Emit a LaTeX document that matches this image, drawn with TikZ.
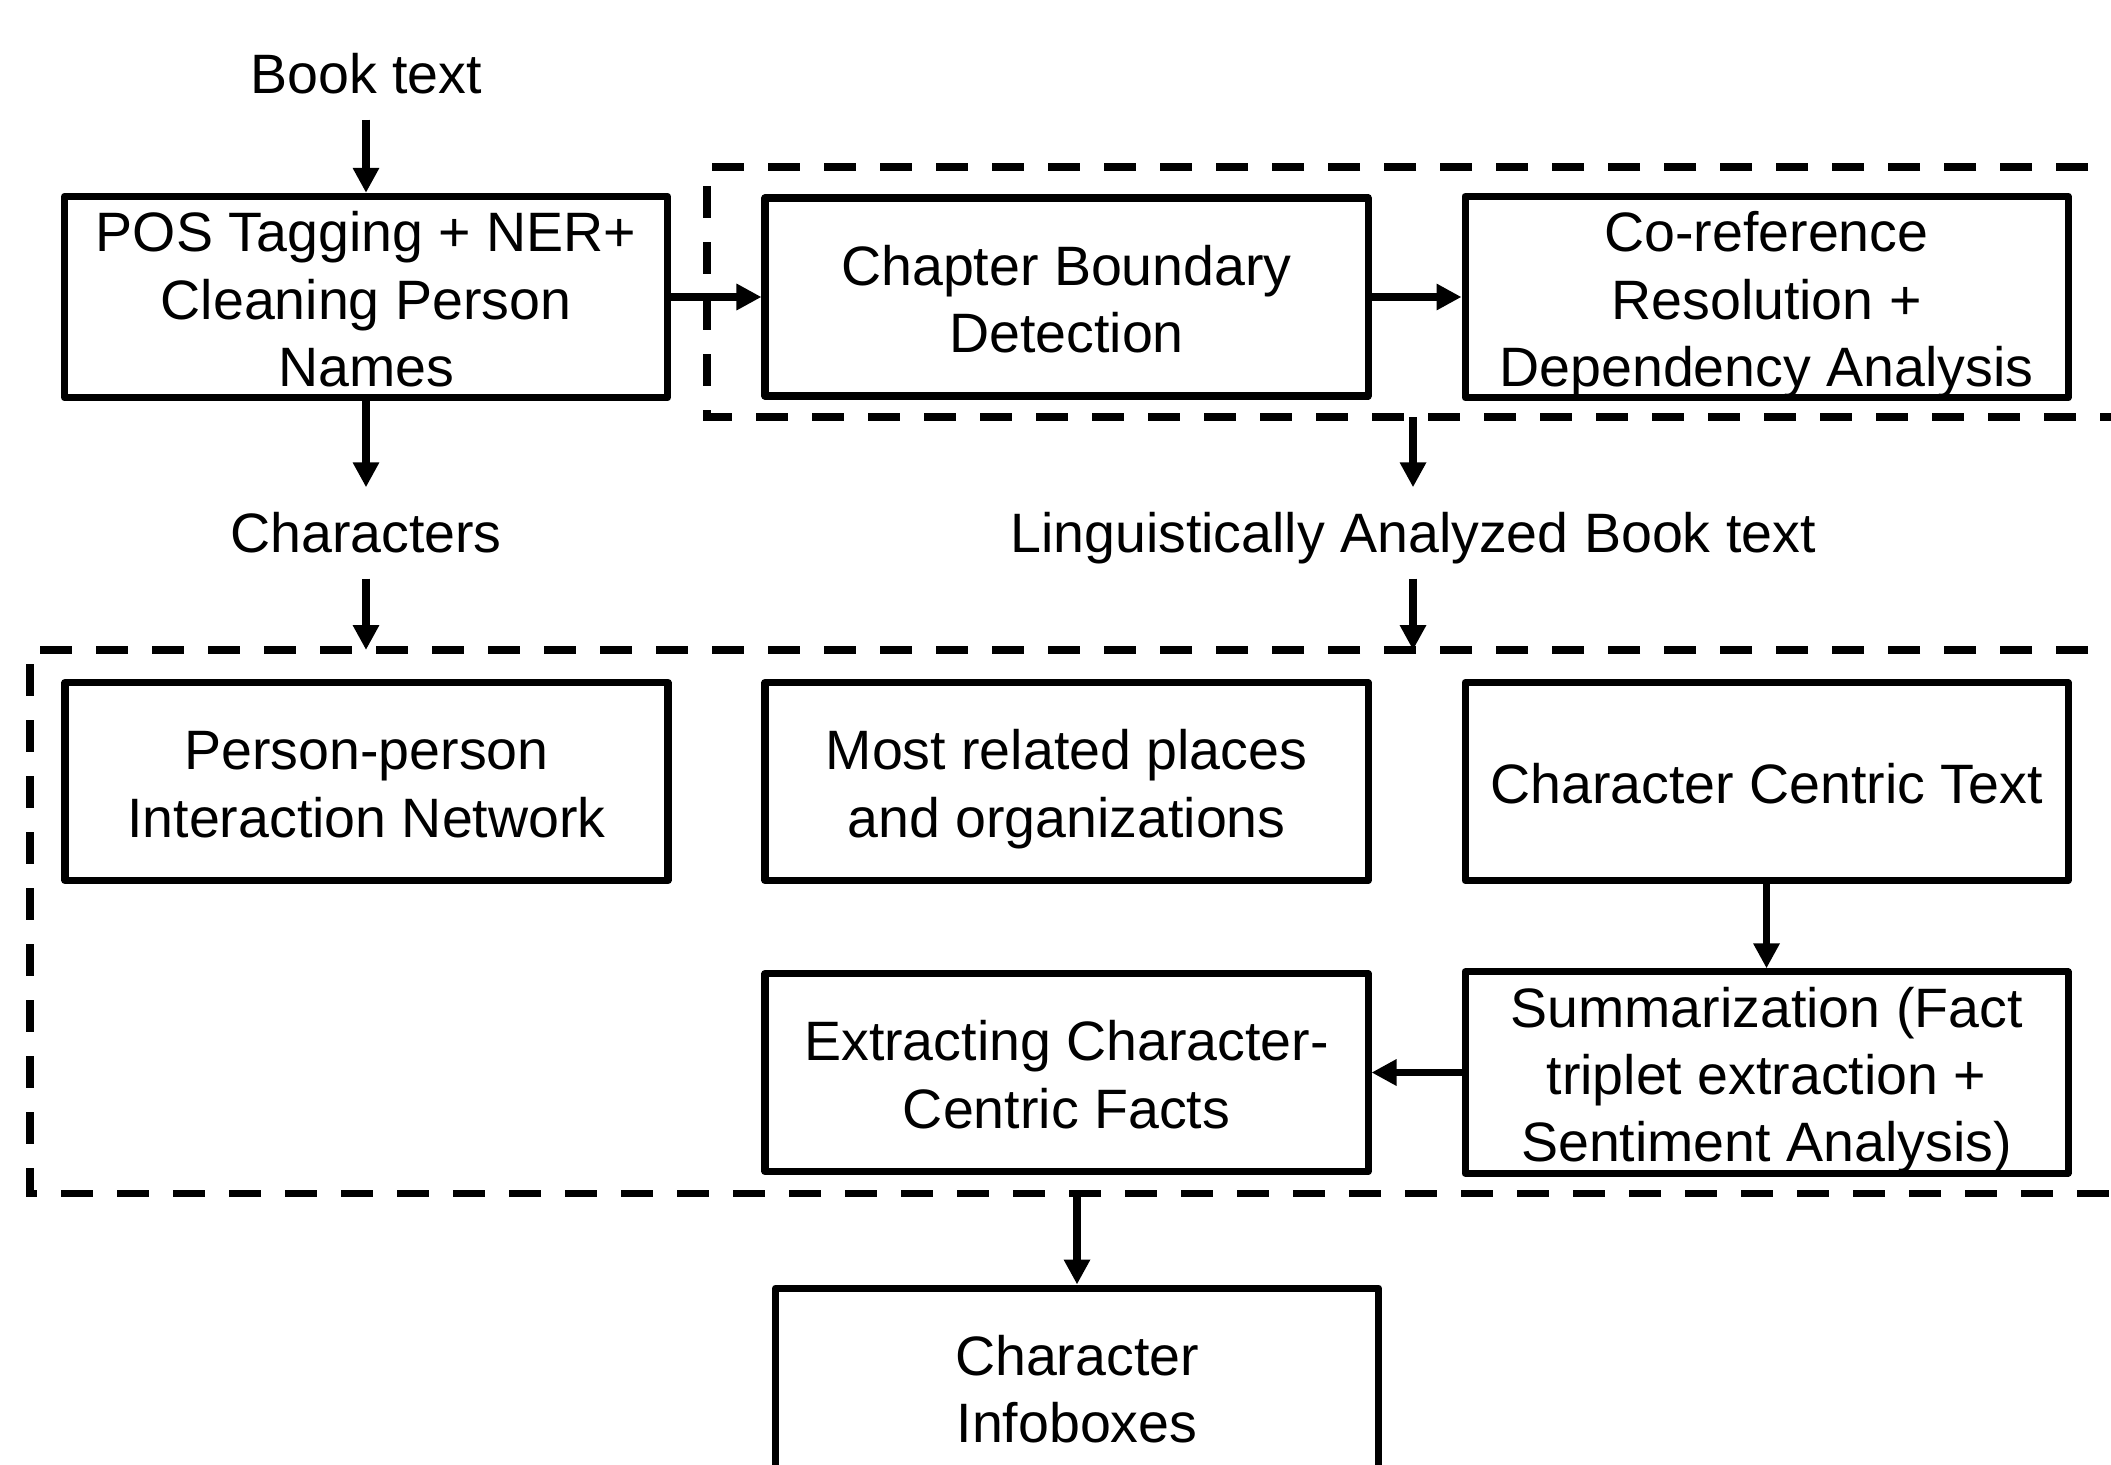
\documentclass[tikz,border=0pt]{standalone}
\usepackage{fontspec}
\setmainfont{Liberation Sans}
\usetikzlibrary{arrows.meta}

\begin{document}
\begin{tikzpicture}[
  box/.style={draw, line width=2pt, line join=round, minimum width=6.03cm, minimum height=1.98cm, inner sep=0pt, text width=5.9cm, align=flush center, font=\fontsize{15.8}{19.1}\selectfont, execute at begin node={\rule{0pt}{15.8pt}}, execute at end node={\vphantom{g}}},
  txt/.style={inner sep=0pt, minimum height=0.9cm, text height=11.3pt, text depth=0pt, font=\fontsize{15.8}{19.1}\selectfont},
  arr/.style={line width=2.1pt, -{Triangle[length=0.25cm, width=0.25cm]}},
  dashbox/.style={line width=2pt, dash pattern=on 0.32cm off 0.24cm}
]
\useasboundingbox (0cm, 0cm) rectangle (21.11cm, -14.64cm);
\clip (0cm, 0cm) rectangle (21.11cm, -14.64cm);
\coordinate (D1) at (7.07cm, -4.17cm);
\coordinate (D2) at (0.30cm, -6.50cm);
\coordinate (D3) at (0.30cm, -11.93cm);
\draw[dashbox] (22cm, -1.67cm) -- (7.07cm, -1.67cm) -- (D1) -- (22cm, -4.17cm);
\draw[dashbox] (22cm, -6.50cm) -- (D2) -- (D3) -- (22cm, -11.93cm);
\node[txt] (booktext) at (3.66cm, -0.74cm) {Book text};
\node[box] (pos) at (3.66cm, -2.97cm) {POS Tagging + NER+\\Cleaning Person\\Names};
\node[box] (chap) at (10.665cm, -2.97cm) {Chapter Boundary\\Detection};
\node[box] (coref) at (17.665cm, -2.97cm) {Co-reference\\Resolution +\\Dependency Analysis};
\node[txt] (chars) at (3.66cm, -5.33cm) {Characters};
\node[txt] (ling) at (14.13cm, -5.33cm) {Linguistically Analyzed Book text};
\node[box] (network) at (3.665cm, -7.815cm) {Person-person\\Interaction Network};
\node[box] (places) at (10.665cm, -7.815cm) {Most related places\\and organizations};
\node[box] (cct) at (17.665cm, -7.815cm) {Character Centric Text};
\node[box] (facts) at (10.665cm, -10.725cm) {Extracting Character-\\Centric Facts};
\node[box] (summ) at (17.665cm, -10.725cm) {Summarization (Fact\\triplet extraction +\\Sentiment Analysis)};
\node[box] (info) at (10.77cm, -13.87cm) {Character\\Infoboxes};
\draw[arr] (booktext) -- (pos);
\draw[arr] (pos) -- (chap);
\draw[arr] (chap) -- (coref);
\draw[arr] (pos) -- (chars);
\draw[arr] (chars) -- (chars |- D2);
\draw[arr] (ling.north |- D1) -- (ling);
\draw[arr] (ling) -- (ling |- D2);
\draw[arr] (cct) -- (summ);
\draw[arr] (summ) -- (facts);
\draw[arr] (info.north |- D3) -- (info);
\end{tikzpicture}
\end{document}
